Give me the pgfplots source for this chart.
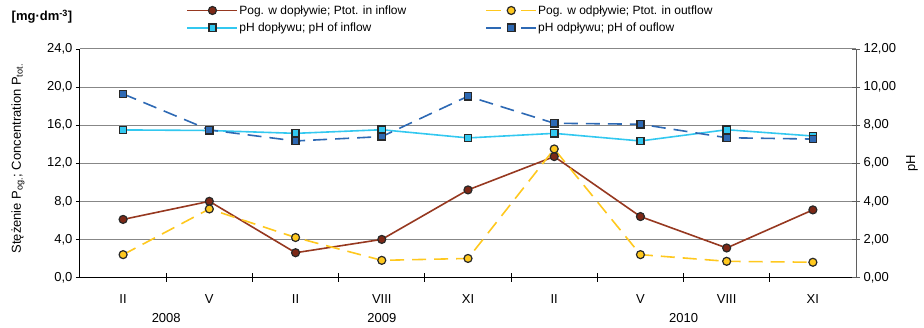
\documentclass[border=0pt]{standalone}
\usepackage{fontspec}
\setmainfont{Liberation Sans}
\usepackage{pgfplots}
\pgfplotsset{compat=1.18}

\definecolor{cBrown}{RGB}{150,56,32}
\definecolor{cBrownF}{RGB}{125,40,22}
\definecolor{cYel}{RGB}{255,200,30}
\definecolor{cLB}{RGB}{50,200,240}
\definecolor{cDB}{RGB}{45,105,180}
\definecolor{cMk}{RGB}{40,40,40}
\definecolor{cGrid}{RGB}{135,135,135}

\begin{document}
\begin{tikzpicture}
\useasboundingbox (-80pt,-50.5pt) rectangle (844pt,277.5pt);
\pgfplotsset{
  every axis/.append style={font=\fontsize{13pt}{15pt}\selectfont},
  legend image code/.code={\draw[mark repeat=2,mark phase=2,#1,line width=1.8pt] plot coordinates {(0pt,0pt)(25pt,0pt)(50pt,0pt)};},
}
\begin{axis}[
  at={(0,0)}, anchor=south west,
  scale only axis, width=776pt, height=228.5pt,
  xmin=-0.5, xmax=8.5, ymin=0, ymax=24,
  clip=false,
  axis x line*=bottom, axis y line*=left,
  axis line style={black, line width=1pt},
  xtick={0,...,8}, xticklabels={II,V,II,VIII,XI,II,V,VIII,XI},
  xtick style={draw=none},
  extra x ticks={0.5,1.5,...,7.5}, extra x tick labels={},
  extra x tick style={xtick style={draw=black, line width=0.8pt}, tick align=center, major tick length=9pt, xmajorgrids=false},
  xticklabel style={anchor=base, yshift=-22pt},
  ytick={0,4,...,24},
  tick align=outside, major tick length=4pt,
  ytick style={draw=black, line width=0.8pt},
  yticklabel style={/pgf/number format/.cd, fixed, fixed zerofill, precision=1, use comma, assume math mode=true},
  ymajorgrids, grid style={cGrid, line width=1pt},
]
\addplot[cBrown, line width=1.6pt, mark=*, mark size=4pt, mark options={fill=cBrownF, draw=cMk, line width=1.2pt, solid}]
  coordinates {(0,6.1)(1,8.0)(2,2.6)(3,4.0)(4,9.2)(5,12.7)(6,6.4)(7,3.1)(8,7.1)};
\addplot[cYel, line width=1.6pt, dash pattern=on 14pt off 8pt, mark=*, mark size=4pt, mark options={fill=cYel, draw=cMk, line width=1.2pt, solid}]
  coordinates {(0,2.4)(1,7.2)(2,4.2)(3,1.8)(4,2.0)(5,13.5)(6,2.4)(7,1.7)(8,1.6)};
\node[anchor=base] at (axis cs:0.5,0) [yshift=-45pt] {2008};
\node[anchor=base] at (axis cs:3,0) [yshift=-45pt] {2009};
\node[anchor=base] at (axis cs:6.5,0) [yshift=-45pt] {2010};
\node[rotate=90] at ([xshift=-62pt]rel axis cs:0,0.52) {Stężenie P\textsubscript{og.}; Concentration P\textsubscript{tot.}};
\node[font=\fontsize{13pt}{15pt}\selectfont\bfseries] at ([xshift=-38pt, yshift=32pt]rel axis cs:0,1) {[mg·dm\textsuperscript{-3}]};
\end{axis}

\begin{axis}[
  at={(0,0)}, anchor=south west,
  scale only axis, width=776pt, height=228.5pt,
  xmin=-0.5, xmax=8.5, ymin=0, ymax=12,
  clip=false,
  axis x line=none, axis y line*=right,
  axis line style={cGrid!70!black, line width=1pt},
  ytick={0,2,...,12},
  tick align=center, major tick length=8pt,
  ytick style={draw=cGrid!70!black, line width=0.8pt},
  yticklabel style={/pgf/number format/.cd, fixed, fixed zerofill, precision=2, use comma, assume math mode=true},
  legend columns=2,
  legend cell align=left,
  legend style={draw=none, fill=none, at={(0.5,1)}, anchor=south, xshift=-18pt, yshift=12pt,
    font=\fontsize{12pt}{14pt}\selectfont, row sep=3pt,
    nodes={inner xsep=1pt},
    /tikz/every even column/.append style={column sep=78pt}},
]
\addlegendimage{cBrown, line width=1.6pt, mark=*, mark size=4pt, mark options={fill=cBrownF, draw=cMk, line width=1.2pt, solid}}
\addlegendentry{Pog. w dopływie; Ptot. in inflow}
\addlegendimage{cYel, line width=1.6pt, dash pattern=on 15pt off 20pt, mark=*, mark size=4pt, mark options={fill=cYel, draw=cMk, line width=1.2pt, solid}}
\addlegendentry{Pog. w odpływie; Ptot. in outflow}
\addlegendimage{cLB, line width=1.6pt, mark=square*, mark size=3.6pt, mark options={fill=cLB, draw=cMk, line width=1.5pt, solid}}
\addlegendentry{pH dopływu; pH of inflow}
\addlegendimage{cDB, line width=1.6pt, dash pattern=on 15pt off 20pt, mark=square*, mark size=3.6pt, mark options={fill=cDB, draw=cMk, line width=1.5pt, solid}}
\addlegendentry{pH odpływu; pH of ouflow}
\addplot[forget plot, cLB, line width=1.6pt, mark=square*, mark size=3.6pt, mark options={fill=cLB, draw=cMk, line width=1.5pt, solid}]
  coordinates {(0,7.75)(1,7.72)(2,7.57)(3,7.76)(4,7.33)(5,7.57)(6,7.17)(7,7.76)(8,7.43)};
\addplot[forget plot, cDB, line width=1.6pt, dash pattern=on 14pt off 8pt, mark=square*, mark size=3.6pt, mark options={fill=cDB, draw=cMk, line width=1.5pt, solid}]
  coordinates {(0,9.64)(1,7.75)(2,7.17)(3,7.40)(4,9.52)(5,8.10)(6,8.05)(7,7.34)(8,7.27)};
\node[rotate=90] at ([xshift=56pt]rel axis cs:1,0.5) {pH};
\end{axis}
\end{tikzpicture}
\end{document}
